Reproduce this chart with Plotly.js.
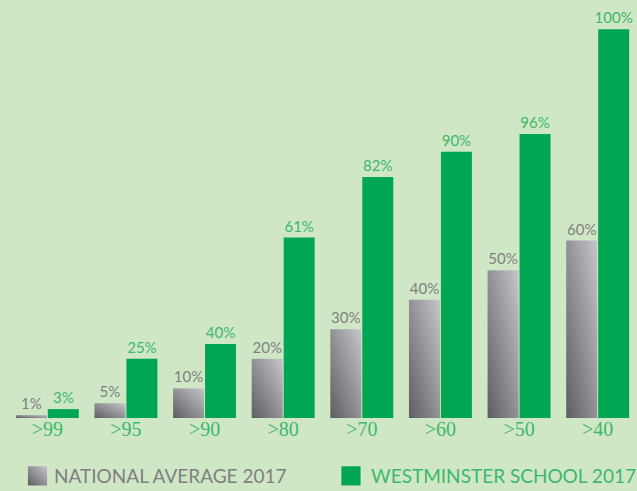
<!DOCTYPE html>
<html>
<head>
<meta charset="utf-8">
<script src="https://cdn.plot.ly/plotly-3.0.1.min.js"></script>
<style>html,body{margin:0;padding:0;background:#d0e7c5;}#chart{width:637px;height:491px;}</style>
</head>
<body>
<div id="chart"></div>
<script>
// Categories (grade thresholds)
var categories = ['>99', '>95', '>90', '>80', '>70', '>60', '>50', '>40'];
// Bar heights as drawn in the picture (in % units of the drawn scale)
var nationalHeights = [1, 5, 10, 20, 30, 40, 50, 60];
var westminsterHeights = [3, 20, 25, 61, 81.5, 90, 96, 131.5];
// Labels printed above the bars
var nationalLabels = ['1%', '5%', '10%', '20%', '30%', '40%', '50%', '60%'];
var westminsterLabels = ['3%', '25%', '40%', '61%', '82%', '90%', '96%', '100%'];
var seriesNames = ['NATIONAL AVERAGE 2017', 'WESTMINSTER SCHOOL 2017'];

var GREY_TEXT = '#808082';
var GREEN = '#00a651';
var GREEN_TEXT = '#3cb86b';
var BG = '#d0e7c5';

var traces = [
  {
    type: 'bar', x: categories, y: nationalHeights, text: nationalLabels,
    name: seriesNames[0], legend: 'legend',
    textposition: 'outside', cliponaxis: false, constraintext: 'none',
    outsidetextfont: {family: 'Lato, sans-serif', size: 15, color: GREY_TEXT},
    marker: {color: '#9a9a9e', line: {width: 0}},
    hoverinfo: 'skip'
  },
  {
    type: 'bar', x: categories, y: westminsterHeights, text: westminsterLabels,
    name: seriesNames[1], legend: 'legend2',
    textposition: 'outside', cliponaxis: false, constraintext: 'none',
    outsidetextfont: {family: 'Lato, sans-serif', size: 15, color: GREEN_TEXT},
    marker: {color: GREEN, line: {width: 0}},
    hoverinfo: 'skip'
  }
];

function legendBox(x, color) {
  return {
    orientation: 'h', xref: 'container', yref: 'container',
    x: x, xanchor: 'left', y: 0.0305, yanchor: 'middle',
    font: {family: 'Lato, sans-serif', size: 19, color: color},
    bgcolor: 'rgba(0,0,0,0)', borderwidth: 0
  };
}

var layout = {
  width: 637, height: 491,
  margin: {l: 8, r: 0, t: 4, b: 73, pad: 0, autoexpand: false},
  paper_bgcolor: BG, plot_bgcolor: BG,
  barmode: 'group', bargap: 0.187, bargroupgap: 0.03,
  showlegend: true,
  legend: legendBox(0.0275, GREY_TEXT),
  legend2: legendBox(0.5196, GREEN_TEXT),
  xaxis: {
    type: 'category', showgrid: false, zeroline: false, showline: false, ticks: '',
    tickfont: {family: '"Liberation Serif", serif', size: 20, color: GREEN_TEXT},
    ticklabelstandoff: -3,
    fixedrange: true
  },
  yaxis: {visible: false, range: [0, 140], showgrid: false, zeroline: false, fixedrange: true}
};

var gd = document.getElementById('chart');
Plotly.newPlot(gd, traces, layout, {staticPlot: true, displayModeBar: false}).then(function () {
  var svg = gd.querySelector('svg.main-svg');
  var ns = 'http://www.w3.org/2000/svg';
  var defs = svg.querySelector('defs') || svg.insertBefore(document.createElementNS(ns, 'defs'), svg.firstChild);
  var grad = document.createElementNS(ns, 'linearGradient');
  grad.setAttribute('id', 'greyGrad');
  grad.setAttribute('x1', '0'); grad.setAttribute('y1', '1');
  grad.setAttribute('x2', '1'); grad.setAttribute('y2', '0');
  [['0', '#5e5e62'], ['1', '#c6c6ca']].forEach(function (s) {
    var st = document.createElementNS(ns, 'stop');
    st.setAttribute('offset', s[0]); st.setAttribute('stop-color', s[1]);
    grad.appendChild(st);
  });
  defs.appendChild(grad);
  var barTraces = gd.querySelectorAll('.barlayer .trace');
  barTraces[0].querySelectorAll('.point path').forEach(function (p) { p.style.fill = 'url(#greyGrad)'; });
  var legends = gd.querySelectorAll('g.legend, g.legend2');
  legends.forEach(function (lg) {
    var isFirst = lg.classList.contains('legend');
    lg.querySelectorAll('.legendpoints path').forEach(function (p) {
      var t = p.getAttribute('transform') || '';
      p.setAttribute('transform', t + ' scale(1.6)');
      p.style.strokeWidth = '0';
      if (isFirst) p.style.fill = 'url(#greyGrad)';
    });
    lg.querySelectorAll('text.legendtext').forEach(function (t) {
      var tr = t.getAttribute('transform') || '';
      t.setAttribute('transform', 'translate(-3.5,0) ' + tr);
    });
  });
});
</script>
</body>
</html>
